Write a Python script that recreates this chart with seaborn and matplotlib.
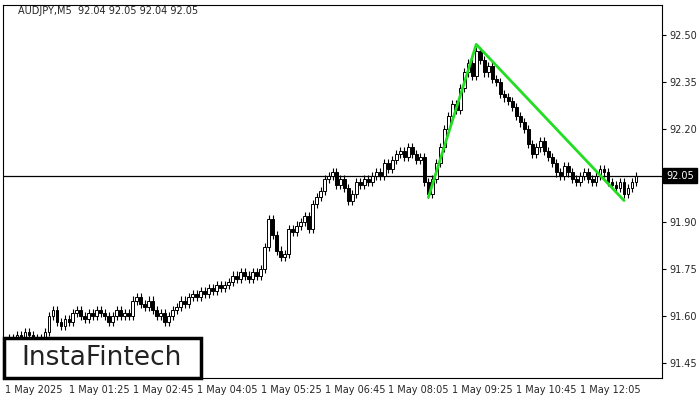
import matplotlib
matplotlib.use("Agg")
import matplotlib.pyplot as plt
import seaborn as sns
import pandas as pd
from matplotlib.patches import Rectangle

closes = [
    91.52, 91.53, 91.52, 91.54, 91.53, 91.55, 91.54, 91.53, 91.52, 91.53, 91.55,
    91.60, 91.62, 91.58, 91.57,
    91.59, 91.58, 91.61, 91.62, 91.60, 91.59, 91.61, 91.60, 91.62, 91.61,
    91.60, 91.58, 91.60, 91.62, 91.60, 91.61, 91.60, 91.65,
    91.66, 91.64, 91.63, 91.65, 91.62, 91.60, 91.61, 91.58,
    91.60, 91.62, 91.63, 91.65, 91.64, 91.66,
    91.67, 91.66, 91.68, 91.67, 91.69, 91.68, 91.70, 91.69, 91.70, 91.71,
    91.73, 91.72, 91.74, 91.73, 91.72, 91.74, 91.73, 91.75,
    91.82, 91.91, 91.86, 91.81, 91.79, 91.80, 91.88, 91.87, 91.89, 91.90,
    91.92, 91.88, 91.96, 91.98, 92.00, 92.04, 92.05, 92.06,
    92.02, 92.04, 92.01, 91.97, 91.99, 92.03, 92.02,
    92.04, 92.03, 92.05, 92.06, 92.05, 92.09, 92.07, 92.10, 92.12,
    92.13, 92.11, 92.14, 92.12, 92.10, 92.11,
    92.03, 91.99, 92.04, 92.09, 92.14, 92.20, 92.24, 92.28, 92.26, 92.33,
    92.38, 92.41, 92.37, 92.45, 92.42, 92.38, 92.40, 92.36, 92.35, 92.31,
    92.30, 92.29, 92.27, 92.24, 92.22, 92.20, 92.15, 92.12, 92.14, 92.16,
    92.13, 92.11, 92.09, 92.06, 92.05, 92.08, 92.06, 92.04, 92.03, 92.05,
    92.06, 92.04, 92.03, 92.05, 92.07, 92.06, 92.03, 92.02, 92.01, 92.03,
    91.99, 92.01, 92.03, 92.05,
]
first_open = 91.51
wick = 0.013

pattern_idx = [106, 118, 155]
pattern_price = [91.98, 92.47, 91.97]

yticks = [91.45, 91.60, 91.75, 91.90, 92.05, 92.20, 92.35, 92.50]
xtick_labels = ["1 May 2025", "1 May 01:25", "1 May 02:45", "1 May 04:05", "1 May 05:25",
                "1 May 06:45", "1 May 08:05", "1 May 09:25", "1 May 10:45", "1 May 12:05"]
current = 92.05

opens = [first_open] + closes[:-1]
df = pd.DataFrame({"o": opens, "c": closes})
df["i"] = range(len(df))
df["lo"] = df[["o", "c"]].min(axis=1)
df["hi"] = df[["o", "c"]].max(axis=1)

sns.set_style("white")
plt.rcParams["font.family"] = ["DejaVu Sans"]
fig = plt.figure(figsize=(7, 4), dpi=100)
ax = fig.add_axes([3 / 700, 22 / 400, 659 / 700, 373 / 400])

ax.vlines(df["i"], df["lo"] - wick, df["hi"] + wick, color="black", lw=0.8, zorder=2)
h = (df["hi"] - df["lo"]).clip(lower=0.002)
colors = ["white" if c >= o else "black" for o, c in zip(df["o"], df["c"])]
ax.bar(df["i"], h, bottom=df["lo"], width=0.7, color=colors, edgecolor="black", lw=0.7, zorder=3)

ax.axhline(current, color="black", lw=0.9, zorder=1)
sns.lineplot(x=pattern_idx, y=pattern_price, color="#22dd22", lw=2, ax=ax, zorder=4)

ax.set_xlim(-0.5, 164.5)
ax.set_ylim(91.402, 92.596)
ax.yaxis.tick_right()
ax.set_yticks(yticks)
ax.set_yticklabels(["" if abs(v - current) < 1e-9 else f"{v:.2f}" for v in yticks], fontsize=7)
ax.set_xticks(range(0, 16 * len(xtick_labels), 16))
ax.set_xticklabels(xtick_labels, fontsize=7, ha="left")
ax.tick_params(axis="both", length=3, width=0.8, color="black", direction="out", pad=2)
for s in ax.spines.values():
    s.set_color("black")
    s.set_linewidth(0.8)

ax.text(1.006, current, f"{current:.2f}", transform=ax.get_yaxis_transform(), fontsize=7,
        color="white", va="center", ha="left", zorder=6,
        bbox=dict(boxstyle="square,pad=0.3", fc="black", ec="black"))

fig.text(18 / 700, 1 - 11 / 400, "AUDJPY,M5  92.04 92.05 92.04 92.05", fontsize=7, va="center")

fig.patches.append(Rectangle((4 / 700, 22 / 400), 197 / 700, 40 / 400, transform=fig.transFigure,
                             fc="white", ec="black", lw=2.5, zorder=10))
fig.text(102 / 700, 42 / 400, "InstaFintech", fontsize=19, ha="center", va="center",
         color="#222222", fontweight="medium", zorder=11)

fig.savefig("out.png", dpi=100)
